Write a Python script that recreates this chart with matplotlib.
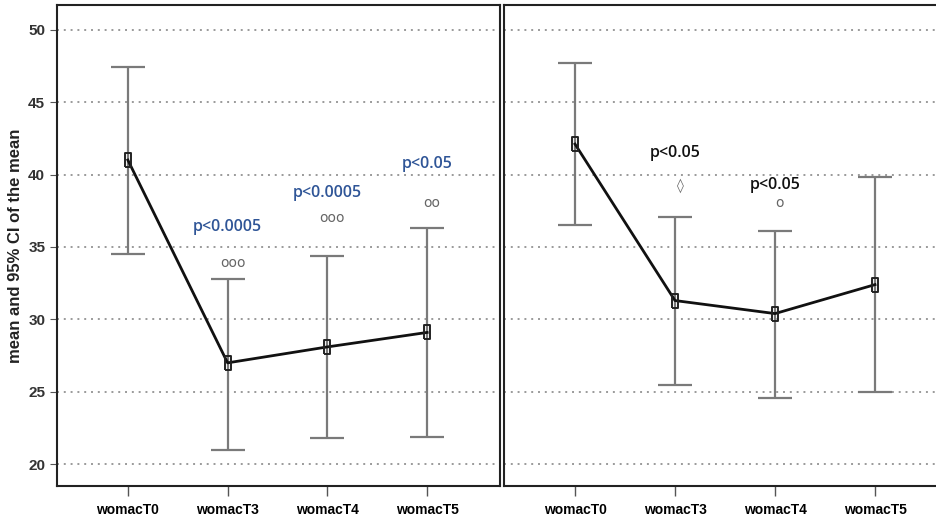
import matplotlib.pyplot as plt

categories = ["womacT0", "womacT3", "womacT4", "womacT5"]

# left panel: mean and 95% CI
left_mean = [41.0, 27.0, 28.1, 29.1]
left_low = [34.5, 21.0, 21.8, 21.9]
left_high = [47.4, 32.8, 34.4, 36.3]

# right panel
right_mean = [42.1, 31.3, 30.4, 32.4]
right_low = [36.5, 25.5, 24.6, 25.0]
right_high = [47.7, 37.1, 36.1, 39.8]

# annotations: (category index, y, text)
left_p = [(1, 36.4, "p<0.0005"), (2, 38.7, "p<0.0005"), (3, 40.7, "p<0.05")]
left_sym = [(1, 33.9, "ooo"), (2, 37.0, "ooo"), (3, 38.0, "oo")]
right_p = [(1, 41.5, "p<0.05"), (2, 39.3, "p<0.05")]
right_sym = [(1, 39.2, "\u25ca"), (2, 38.0, "o")]

plt.rcParams['font.family'] = ['Liberation Sans', 'DejaVu Sans']

fig = plt.figure(figsize=(9.36, 5.21), dpi=100)
ax1 = fig.add_axes([57/936, 35/521, 443/936, 481/521])
ax2 = fig.add_axes([504/936, 35/521, 444/936, 481/521], sharey=ax1)

box = [(-0.45, -1), (0.45, -1), (0.45, 1), (-0.45, 1), (-0.45, -1)]


def draw(ax, mean, low, high, pcolor, ptexts, syms):
    x = list(range(len(categories)))
    for v in range(20, 51, 5):
        ax.axhline(v, color="#9a9a9a", lw=1.4, ls=(0, (1, 2.5)), zorder=0)
    err = [[m - l for m, l in zip(mean, low)], [h - m for m, h in zip(mean, high)]]
    ax.errorbar(x, mean, yerr=err, fmt="none", ecolor="#7a7a7a", elinewidth=1.6,
                capsize=12, capthick=1.6, zorder=2)
    ax.plot(x, mean, color="#111111", lw=2, marker=box, markersize=10,
            markerfacecolor="none", markeredgecolor="#222222", markeredgewidth=1.4, zorder=3)
    for i, y, t in ptexts:
        ax.text(i, y, t, color=pcolor, fontsize=11.5, fontweight="semibold",
                ha="center", va="center", family=["Open Sans", "DejaVu Sans"])
    for i, y, t in syms:
        ax.text(i + 0.05, y, t, color="#666666", fontsize=10, ha="center", va="center",
                family=["DejaVu Sans"])
    ax.set_xlim(-0.71, 3.73)
    ax.set_ylim(18.5, 51.7)
    ax.set_xticks(x)
    ax.set_xticklabels(categories, fontsize=10, fontweight="bold")
    ax.tick_params(axis="x", length=7, width=1, color="#555555", pad=5)
    for s in ax.spines.values():
        s.set_linewidth(1.5)
        s.set_color("#222222")


draw(ax1, left_mean, left_low, left_high, "#2f5597", left_p, left_sym)
draw(ax2, right_mean, right_low, right_high, "#111111", right_p, right_sym)

ax1.set_yticks(range(20, 51, 5))
ax1.tick_params(axis="y", length=5, labelsize=11, labelcolor="#333333", color="#555555")
for lab in ax1.get_yticklabels():
    lab.set_fontweight("bold")
ax1.set_ylabel("mean and 95% CI of the mean", fontsize=12, fontweight="bold",
               color="#222222", labelpad=4)
ax2.tick_params(axis="y", left=False, labelleft=False)

fig.savefig("out.png", dpi=100)
